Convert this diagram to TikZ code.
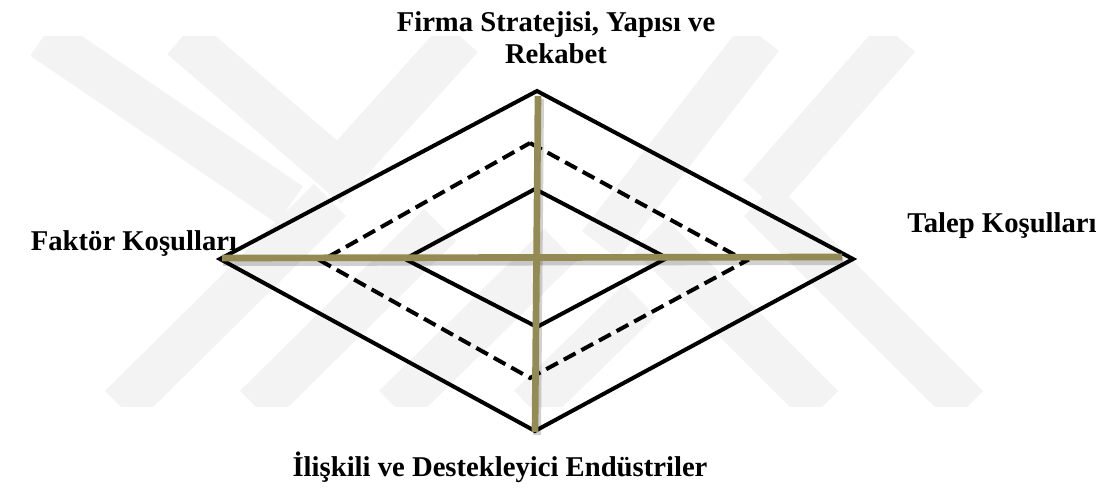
\documentclass[tikz,border=0pt]{standalone}
\usepackage{fontspec}
\setmainfont{Liberation Serif}
\usetikzlibrary{positioning}
\definecolor{crossolive}{RGB}{148,138,84}
\definecolor{markgray}{RGB}{243,243,243}

\tikzset{
  label/.style={inner sep=0pt, font=\fontsize{21.5}{24}\selectfont\bfseries, align=center},
  rim/.style={line width=3pt, line join=miter},
  axis/.style={line width=5pt, crossolive},
  axisshadow/.style={line width=6pt, black, opacity=0.18},
  band/.style={line width=34pt, markgray}
}

\begin{document}
\begin{tikzpicture}[x=0.75pt, y=-0.75pt]
\useasboundingbox (0,0) rectangle (1108,488);

% Faint watermark
\begin{scope}
\clip (0,37) rectangle (1108,407);
\draw[band] (43,37) -- (290,205);
\draw[band] (182,37) -- (339,172) -- (461,37);
\draw[band] (121,407) -- (330,200);
\draw[band] (256,407) -- (440,225);
\draw[band] (395,407) -- (560,245);
\draw[band] (530,407) -- (640,300);
\draw[band] (761,37) -- (600,245);
\draw[band] (898,37) -- (760,195);
\draw[band] (822,407) -- (650,235);
\draw[band] (967,407) -- (760,200);
\end{scope}

% Corners of the three diamonds
\coordinate (outtop) at (537,91);
\coordinate (outleft) at (220,259);
\coordinate (outright) at (853,259);
\coordinate (outbottom) at (535,431);
\coordinate (midtop) at (530,143);
\coordinate (midleft) at (321,261);
\coordinate (midright) at (746,261);
\coordinate (midbottom) at (530,378);
\coordinate (intop) at (535,189);
\coordinate (inleft) at (405,259);
\coordinate (inright) at (667,258);
\coordinate (inbottom) at (537,327);

\draw[rim] (outtop) -- (outright) -- (outbottom) -- (outleft) -- cycle;
\draw[rim, dash pattern=on 10pt off 5pt] (midtop) -- (midright) -- (midbottom) -- (midleft) -- cycle;
\draw[rim] (intop) -- (inright) -- (inbottom) -- (inleft) -- cycle;

% Cross
\coordinate (hstart) at (222,258);
\coordinate (hend) at (842,257);
\coordinate (vstart) at (538,96);
\coordinate (vend) at (535,432);
\draw[axisshadow] ([shift={(1,4)}]hstart) -- ([shift={(1,4)}]hend);
\draw[axisshadow] ([shift={(2,3)}]vstart) -- ([shift={(2,3)}]vend);
\draw[axis] (hstart) -- (hend);
\draw[axis] (vstart) -- (vend);

% Labels
\node[label, anchor=base] (firma) at (556,64) {Firma Stratejisi, Yapısı ve\\Rekabet};
\node[label, anchor=base] (faktor) at (134,251) {Faktör Koşulları};
\node[label, anchor=base] (talep) at (1002,233) {Talep Koşulları};
\node[label, anchor=base] (iliskili) at (500,477) {İlişkili ve Destekleyici Endüstriler};
\end{tikzpicture}
\end{document}
